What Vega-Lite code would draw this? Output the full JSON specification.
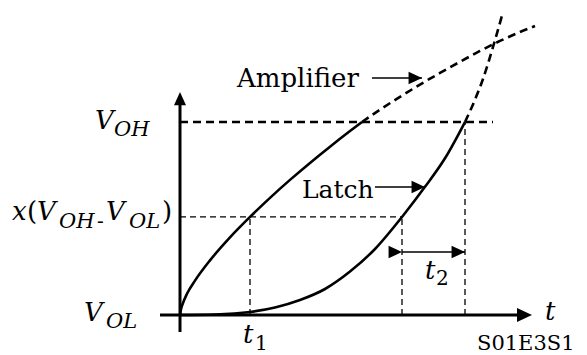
{
  "$schema": "https://vega.github.io/schema/vega-lite/v6.json",
  "width": 587,
  "height": 355,
  "padding": 0,
  "autosize": {"type": "none"},
  "background": "white",
  "config": {"view": {"stroke": null}, "text": {"font": "DejaVu Serif", "color": "black", "align": "left", "baseline": "alphabetic"}},
  "datasets": {
    "curves": [
      {"series": "Amplifier", "part": "solid", "t": 0.0, "v": 0.0},
      {"series": "Amplifier", "part": "solid", "t": 0.01, "v": 0.03},
      {"series": "Amplifier", "part": "solid", "t": 0.03, "v": 0.062},
      {"series": "Amplifier", "part": "solid", "t": 0.07, "v": 0.11},
      {"series": "Amplifier", "part": "solid", "t": 0.15, "v": 0.178},
      {"series": "Amplifier", "part": "solid", "t": 0.3, "v": 0.283},
      {"series": "Amplifier", "part": "solid", "t": 0.5, "v": 0.402},
      {"series": "Amplifier", "part": "solid", "t": 0.7, "v": 0.508},
      {"series": "Amplifier", "part": "solid", "t": 0.9, "v": 0.607},
      {"series": "Amplifier", "part": "solid", "t": 1.1, "v": 0.7},
      {"series": "Amplifier", "part": "solid", "t": 1.3, "v": 0.788},
      {"series": "Amplifier", "part": "solid", "t": 1.5, "v": 0.872},
      {"series": "Amplifier", "part": "solid", "t": 1.7, "v": 0.953},
      {"series": "Amplifier", "part": "solid", "t": 1.82, "v": 1.0},
      {"series": "Amplifier", "part": "extrapolated", "t": 1.82, "v": 1.0},
      {"series": "Amplifier", "part": "extrapolated", "t": 2.0, "v": 1.064},
      {"series": "Amplifier", "part": "extrapolated", "t": 2.2, "v": 1.13},
      {"series": "Amplifier", "part": "extrapolated", "t": 2.4, "v": 1.194},
      {"series": "Amplifier", "part": "extrapolated", "t": 2.6, "v": 1.254},
      {"series": "Amplifier", "part": "extrapolated", "t": 2.8, "v": 1.312},
      {"series": "Amplifier", "part": "extrapolated", "t": 3.0, "v": 1.368},
      {"series": "Amplifier", "part": "extrapolated", "t": 3.2, "v": 1.42},
      {"series": "Amplifier", "part": "extrapolated", "t": 3.4, "v": 1.466},
      {"series": "Amplifier", "part": "extrapolated", "t": 3.55, "v": 1.497},
      {"series": "Latch", "part": "solid", "t": 0.0, "v": 0.0},
      {"series": "Latch", "part": "solid", "t": 0.35, "v": 0.0026},
      {"series": "Latch", "part": "solid", "t": 0.7, "v": 0.0155},
      {"series": "Latch", "part": "solid", "t": 0.95, "v": 0.0389},
      {"series": "Latch", "part": "solid", "t": 1.2, "v": 0.0777},
      {"series": "Latch", "part": "solid", "t": 1.45, "v": 0.1347},
      {"series": "Latch", "part": "solid", "t": 1.7, "v": 0.225},
      {"series": "Latch", "part": "solid", "t": 1.95, "v": 0.342},
      {"series": "Latch", "part": "solid", "t": 2.22, "v": 0.508},
      {"series": "Latch", "part": "solid", "t": 2.45, "v": 0.664},
      {"series": "Latch", "part": "solid", "t": 2.65, "v": 0.812},
      {"series": "Latch", "part": "solid", "t": 2.85, "v": 1.0},
      {"series": "Latch", "part": "extrapolated", "t": 2.85, "v": 1.0},
      {"series": "Latch", "part": "extrapolated", "t": 2.94, "v": 1.1036},
      {"series": "Latch", "part": "extrapolated", "t": 3.03, "v": 1.2228},
      {"series": "Latch", "part": "extrapolated", "t": 3.13, "v": 1.3886},
      {"series": "Latch", "part": "extrapolated", "t": 3.23, "v": 1.5699}
    ],
    "levels": [
      {"name": "V_OH", "kind": "major", "t": 0.0, "v": 1.0, "t2": 3.13, "v2": 1.0},
      {"name": "x level", "kind": "minor", "t": 0.0, "v": 0.508, "t2": 2.22, "v2": 0.508},
      {"name": "t1 amplifier", "kind": "minor", "t": 0.7, "v": 0.0, "t2": 0.7, "v2": 0.508},
      {"name": "t1 latch", "kind": "minor", "t": 2.22, "v": 0.0, "t2": 2.22, "v2": 0.508},
      {"name": "latch at V_OH", "kind": "minor", "t": 2.85, "v": 0.0, "t2": 2.85, "v2": 1.0}
    ],
    "axes": [
      {"name": "time axis", "t": -0.2, "v": 0.0, "t2": 3.45, "v2": 0.0},
      {"name": "voltage axis", "t": 0.0, "v": -0.088, "t2": 0.0, "v2": 1.1}
    ],
    "axisHeads": [
      {"dir": "right", "t": 3.52, "v": 0.0},
      {"dir": "up", "t": 0.0, "v": 1.155}
    ],
    "pointers": [
      {"name": "Amplifier", "t": 1.92, "v": 1.228, "t2": 2.42, "v2": 1.228},
      {"name": "Latch", "t": 1.95, "v": 0.663, "t2": 2.45, "v2": 0.663},
      {"name": "t2", "t": 2.22, "v": 0.326, "t2": 2.85, "v2": 0.326}
    ],
    "pointerHeads": [
      {"dir": "right", "t": 2.42, "v": 1.228},
      {"dir": "right", "t": 2.45, "v": 0.663},
      {"dir": "left", "t": 2.22, "v": 0.326},
      {"dir": "right", "t": 2.85, "v": 0.326}
    ],
    "italicText": [
      {"label": "V", "t": -0.85, "v": 0.964},
      {"label": "V", "t": -0.96, "v": -0.031},
      {"label": "x", "t": -1.68, "v": 0.492},
      {"label": "V", "t": -1.43, "v": 0.492},
      {"label": "V", "t": -0.74, "v": 0.492},
      {"label": "t", "t": 0.63, "v": -0.145},
      {"label": "t", "t": 2.45, "v": 0.187},
      {"label": "t", "t": 3.65, "v": -0.026}
    ],
    "italicSubscripts": [
      {"label": "OH", "t": -0.66, "v": 0.927},
      {"label": "OL", "t": -0.74, "v": -0.067},
      {"label": "OH", "t": -1.21, "v": 0.451},
      {"label": "OL", "t": -0.51, "v": 0.451}
    ],
    "romanText": [
      {"label": "(", "t": -1.53, "v": 0.492},
      {"label": ")", "t": -0.18, "v": 0.492},
      {"label": "Amplifier", "t": 0.57, "v": 1.181}
    ],
    "latchText": [
      {"label": "Latch", "t": 1.22, "v": 0.606}
    ],
    "romanSubscripts": [
      {"label": "-", "t": -0.83, "v": 0.451},
      {"label": "1", "t": 0.75, "v": -0.18},
      {"label": "2", "t": 2.56, "v": 0.155}
    ],
    "caption": [
      {"label": "S01E3S1", "t": 2.97, "v": -0.181}
    ]
  },
  "encoding": {
    "x": {"field": "t", "type": "quantitative", "scale": {"domain": [-1.8, 4.07], "nice": false, "zero": false}, "axis": null},
    "y": {"field": "v", "type": "quantitative", "scale": {"domain": [-0.2073, 1.6321], "nice": false, "zero": false}, "axis": null}
  },
  "layer": [
    {
      "data": {"name": "levels"},
      "transform": [{"filter": "datum.kind === 'major'"}],
      "mark": {"type": "rule", "color": "black", "strokeWidth": 2.6, "strokeDash": [8, 5]},
      "encoding": {"x2": {"field": "t2"}, "y2": {"field": "v2"}}
    },
    {
      "data": {"name": "levels"},
      "transform": [{"filter": "datum.kind === 'minor'"}],
      "mark": {"type": "rule", "color": "black", "strokeWidth": 1.3, "strokeDash": [6, 4]},
      "encoding": {"x2": {"field": "t2"}, "y2": {"field": "v2"}}
    },
    {
      "data": {"name": "axes"},
      "mark": {"type": "rule", "color": "black", "strokeWidth": 3},
      "encoding": {"x2": {"field": "t2"}, "y2": {"field": "v2"}}
    },
    {
      "data": {"name": "axisHeads"},
      "mark": {"type": "point", "filled": true, "color": "black", "opacity": 1, "size": 225, "strokeWidth": 0},
      "encoding": {
        "shape": {"field": "dir", "type": "nominal", "legend": null,
          "scale": {"domain": ["right", "up"], "range": ["M0,0L-2,-0.93L-2,0.93Z", "M0,0L-0.8,1.75L0.8,1.75Z"]}}
      }
    },
    {
      "data": {"name": "curves"},
      "transform": [{"filter": "datum.part === 'solid'"}],
      "mark": {"type": "line", "color": "black", "strokeWidth": 2.6, "interpolate": "monotone"},
      "encoding": {"detail": {"field": "series"}}
    },
    {
      "data": {"name": "curves"},
      "transform": [{"filter": "datum.part === 'extrapolated'"}],
      "mark": {"type": "line", "color": "black", "strokeWidth": 2.6, "strokeDash": [8, 5], "interpolate": "monotone"},
      "encoding": {"detail": {"field": "series"}}
    },
    {
      "data": {"name": "pointers"},
      "mark": {"type": "rule", "color": "black", "strokeWidth": 1.5},
      "encoding": {"x2": {"field": "t2"}, "y2": {"field": "v2"}}
    },
    {
      "data": {"name": "pointerHeads"},
      "mark": {"type": "point", "filled": true, "color": "black", "opacity": 1, "size": 180, "strokeWidth": 0},
      "encoding": {
        "shape": {"field": "dir", "type": "nominal", "legend": null,
          "scale": {"domain": ["right", "left"], "range": ["M0,0L-2,-0.8L-2,0.8Z", "M0,0L2,-0.8L2,0.8Z"]}}
      }
    },
    {
      "data": {"name": "italicText"},
      "mark": {"type": "text", "fontStyle": "italic", "fontSize": 26},
      "encoding": {"text": {"field": "label"}}
    },
    {
      "data": {"name": "italicSubscripts"},
      "mark": {"type": "text", "fontStyle": "italic", "fontSize": 21},
      "encoding": {"text": {"field": "label"}}
    },
    {
      "data": {"name": "romanText"},
      "mark": {"type": "text", "fontSize": 26},
      "encoding": {"text": {"field": "label"}}
    },
    {
      "data": {"name": "latchText"},
      "mark": {"type": "text", "fontSize": 25},
      "encoding": {"text": {"field": "label"}}
    },
    {
      "data": {"name": "romanSubscripts"},
      "mark": {"type": "text", "fontSize": 20},
      "encoding": {"text": {"field": "label"}}
    },
    {
      "data": {"name": "caption"},
      "mark": {"type": "text", "fontSize": 21},
      "encoding": {"text": {"field": "label"}}
    }
  ]
}
